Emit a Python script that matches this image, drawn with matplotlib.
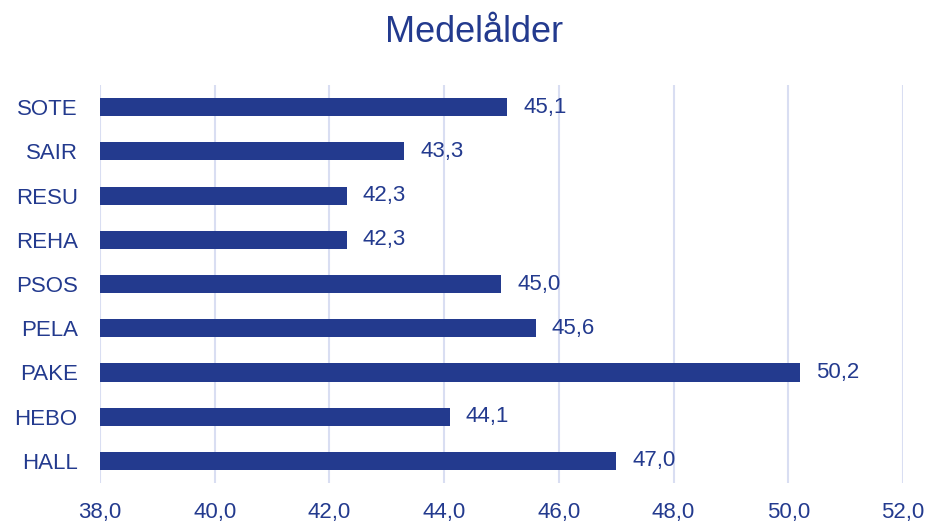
import matplotlib
matplotlib.use("Agg")
import matplotlib.pyplot as plt

categories = ["HALL", "HEBO", "PAKE", "PELA", "PSOS", "REHA", "RESU", "SAIR", "SOTE"]
values = [47.0, 44.1, 50.2, 45.6, 45.0, 42.3, 42.3, 43.3, 45.1]
xticks = [38, 40, 42, 44, 46, 48, 50, 52]

plt.rcParams['font.family'] = ['Liberation Sans', 'DejaVu Sans']
blue = "#233A8E"
grid = "#D9DEF2"

fig = plt.figure(figsize=(9.29, 5.22), dpi=100)
ax = fig.add_axes([0.1076, 0.0747, 0.972 - 0.1076, 0.837 - 0.0747])

y = list(range(len(categories)))
ax.barh(y, [v - 38 for v in values], left=38, height=0.41, color=blue, zorder=3)
for yi, v in zip(y, values):
    ax.text(v + 0.28, yi, f"{v:.1f}".replace(".", ","), va="center", ha="left",
            fontsize=16, color=blue)

ax.set_xlim(38, 52)
ax.set_ylim(-0.5, len(categories) - 0.5)
ax.set_xticks(xticks)
ax.set_xticklabels([f"{t:.1f}".replace(".", ",") for t in xticks], fontsize=16, color=blue)
ax.set_yticks(y)
ax.set_yticklabels(categories, fontsize=16, color=blue)
ax.tick_params(length=0)
ax.tick_params(axis='y', pad=16)
ax.tick_params(axis='x', pad=14)
ax.grid(axis='x', color=grid, linewidth=1.5, zorder=0)
for s in ax.spines.values():
    s.set_visible(False)

fig.text(0.51, 0.971, "Medelålder", ha="center", va="top", fontsize=26, color=blue)
fig.savefig("out.png", dpi=100)
